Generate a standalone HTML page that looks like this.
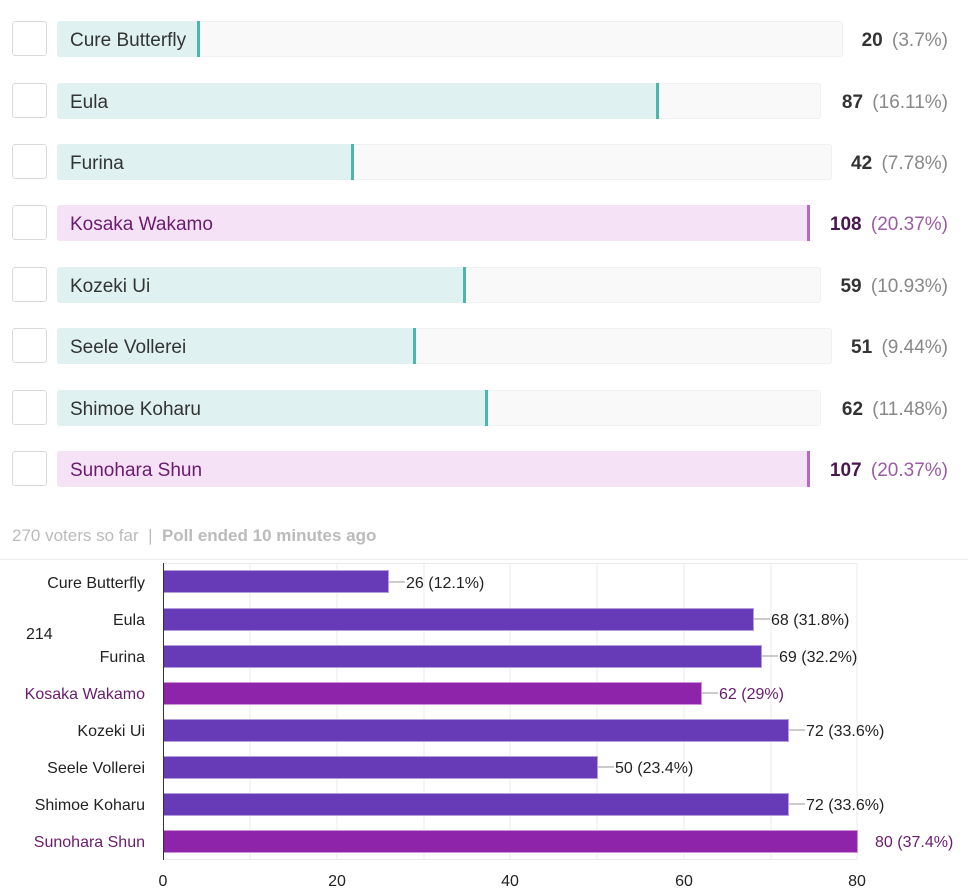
<!DOCTYPE html>
<html><head><meta charset="utf-8"><style>
body{margin:0;width:968px;height:892px;background:#fff;font-family:"Liberation Sans",sans-serif;position:relative;overflow:hidden}
.row{position:absolute;left:0;width:968px;height:36px}
.cb{position:absolute;left:12px;top:0;width:33px;height:33px;border:1px solid #dadada;border-radius:3px;background:#fff}
.track{position:absolute;left:57px;top:0;height:36px;background:#f9f9f9;border:1px solid #f0f0f0;box-sizing:border-box;border-radius:3px}
.fill{position:absolute;left:57px;top:0;height:36px;border-radius:3px 0 0 3px;box-sizing:border-box}
.t .fill{background:#dff1f1;border-right:3px solid #4db6ac}
.p .fill{background:#f6e2f6;border-right:3px solid #ba68c8}
.lbl{position:absolute;left:70px;top:2px;line-height:36px;font-size:19px;color:#333}
.p .lbl{color:#6a1b6e}
.num{position:absolute;right:20px;top:2px;line-height:36px;font-size:19px;color:#888;white-space:nowrap}
.num b{color:#333;margin-right:4px}
.p .num{color:#9c5ba5}.p .num b{color:#4a1650}
.foot{position:absolute;left:12px;top:526px;font-size:17px;color:#bbb}
.foot b{font-weight:bold;color:#bbb}
</style></head><body>
<div class="row t" style="top:21px"><div class="cb"></div><div class="track" style="width:786px"></div><div class="fill" style="width:143px"></div><div class="lbl">Cure Butterfly</div><div class="num"><b>20</b> (3.7%)</div></div>
<div class="row t" style="top:83px"><div class="cb"></div><div class="track" style="width:764px"></div><div class="fill" style="width:602px"></div><div class="lbl">Eula</div><div class="num"><b>87</b> (16.11%)</div></div>
<div class="row t" style="top:144px"><div class="cb"></div><div class="track" style="width:775px"></div><div class="fill" style="width:297px"></div><div class="lbl">Furina</div><div class="num"><b>42</b> (7.78%)</div></div>
<div class="row p" style="top:205px"><div class="cb"></div><div class="track" style="width:752px"></div><div class="fill" style="width:753px"></div><div class="lbl">Kosaka Wakamo</div><div class="num"><b>108</b> (20.37%)</div></div>
<div class="row t" style="top:267px"><div class="cb"></div><div class="track" style="width:764px"></div><div class="fill" style="width:409px"></div><div class="lbl">Kozeki Ui</div><div class="num"><b>59</b> (10.93%)</div></div>
<div class="row t" style="top:328px"><div class="cb"></div><div class="track" style="width:775px"></div><div class="fill" style="width:359px"></div><div class="lbl">Seele Vollerei</div><div class="num"><b>51</b> (9.44%)</div></div>
<div class="row t" style="top:390px"><div class="cb"></div><div class="track" style="width:764px"></div><div class="fill" style="width:431px"></div><div class="lbl">Shimoe Koharu</div><div class="num"><b>62</b> (11.48%)</div></div>
<div class="row p" style="top:451px"><div class="cb"></div><div class="track" style="width:752px"></div><div class="fill" style="width:753px"></div><div class="lbl">Sunohara Shun</div><div class="num"><b>107</b> (20.37%)</div></div>
<div class="foot">270 voters so far &nbsp;|&nbsp; <b>Poll ended 10 minutes ago</b></div>
<svg style="position:absolute;left:0;top:0" width="968" height="892" font-family="Liberation Sans, sans-serif">
<line x1="0" y1="559.5" x2="968" y2="559.5" stroke="#eee"/>
<g stroke="#ebebeb">
<line x1="250" y1="563" x2="250" y2="860"/><line x1="337" y1="563" x2="337" y2="860"/><line x1="424" y1="563" x2="424" y2="860"/><line x1="510" y1="563" x2="510" y2="860"/><line x1="597" y1="563" x2="597" y2="860"/><line x1="684" y1="563" x2="684" y2="860"/><line x1="771" y1="563" x2="771" y2="860"/><line x1="857" y1="563" x2="857" y2="860"/>
<line x1="163" y1="563.5" x2="857" y2="563.5"/><line x1="163" y1="859.5" x2="857" y2="859.5"/>
</g>
<g font-size="16" fill="#222" text-anchor="end">
<text x="145" y="588">Cure Butterfly</text><text x="145" y="625">Eula</text><text x="145" y="662">Furina</text>
<text x="145" y="699" fill="#6a1b6e">Kosaka Wakamo</text><text x="145" y="736">Kozeki Ui</text><text x="145" y="773">Seele Vollerei</text><text x="145" y="810">Shimoe Koharu</text><text x="145" y="847" fill="#6a1b6e">Sunohara Shun</text>
</g>
<text x="26" y="639" font-size="16" fill="#222">214</text>
<g stroke="#b39ddb" stroke-width="1">
<rect x="163.5" y="570.5" width="225" height="22" fill="#673ab7"/>
<rect x="163.5" y="608.5" width="590" height="22" fill="#673ab7"/>
<rect x="163.5" y="645.5" width="598" height="22" fill="#673ab7"/>
<rect x="163.5" y="682.5" width="538" height="22" fill="#8e24aa" stroke="#ce93d8"/>
<rect x="163.5" y="719.5" width="625" height="22" fill="#673ab7"/>
<rect x="163.5" y="756.5" width="434" height="22" fill="#673ab7"/>
<rect x="163.5" y="793.5" width="625" height="22" fill="#673ab7"/>
<rect x="163.5" y="830.5" width="694" height="22" fill="#8e24aa" stroke="#ce93d8"/>
</g>
<g stroke="#999"><line x1="389" y1="582" x2="405" y2="582"/><line x1="754" y1="619" x2="770" y2="619"/><line x1="762" y1="656" x2="778" y2="656"/><line x1="702" y1="693" x2="718" y2="693"/><line x1="789" y1="730" x2="805" y2="730"/><line x1="598" y1="767" x2="614" y2="767"/><line x1="789" y1="804" x2="805" y2="804"/></g>
<line x1="163.5" y1="563" x2="163.5" y2="860" stroke="#333"/>
<g font-size="16" fill="#222">
<text x="406" y="588">26 (12.1%)</text><text x="771" y="625">68 (31.8%)</text><text x="779" y="662">69 (32.2%)</text>
<text x="719" y="699" fill="#6a1b6e">62 (29%)</text><text x="806" y="736">72 (33.6%)</text><text x="615" y="773">50 (23.4%)</text><text x="806" y="810">72 (33.6%)</text>
<text x="875" y="847" fill="#6a1b6e">80 (37.4%)</text>
</g>
<g font-size="16" fill="#222" text-anchor="middle">
<text x="163" y="886">0</text><text x="337" y="886">20</text><text x="510" y="886">40</text><text x="684" y="886">60</text><text x="857" y="886">80</text>
</g>
</svg>
</body></html>
